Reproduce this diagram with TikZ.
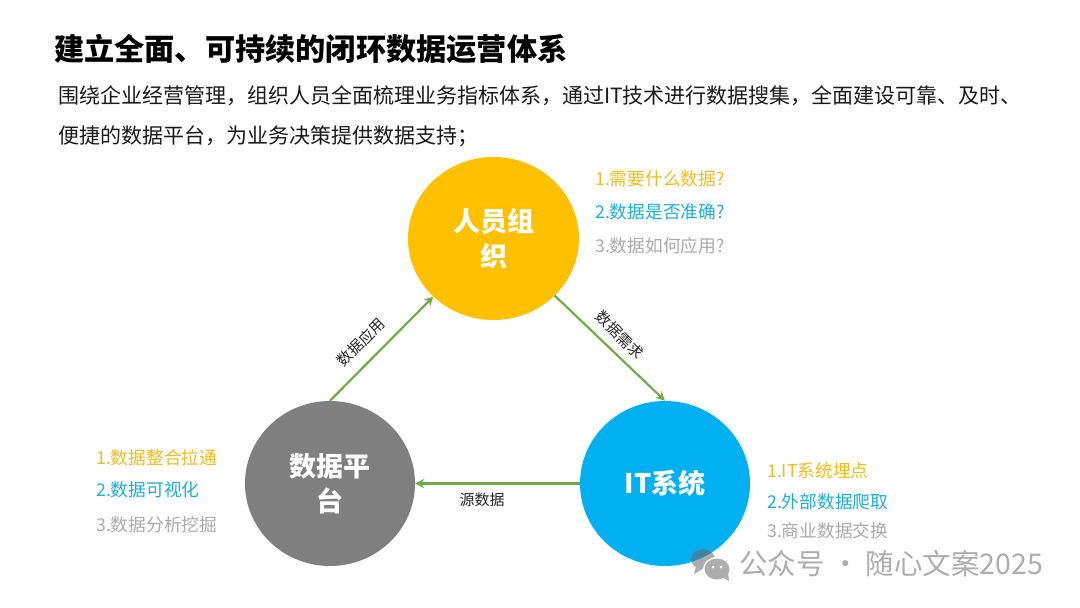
\documentclass[tikz,border=0pt]{standalone}
\usepackage{fontspec}
\setmainfont{Noto Sans CJK SC}
\usetikzlibrary{arrows.meta,shapes.geometric}
\definecolor{cyel}{HTML}{FFC000}
\definecolor{cblu}{HTML}{00B0F0}
\definecolor{cgry}{HTML}{7F7F7F}
\definecolor{cgrn}{HTML}{70AD47}
\definecolor{tyel}{HTML}{F2BC1A}
\definecolor{tblu}{HTML}{1BAFD8}
\definecolor{tgry}{HTML}{ABABAB}
\definecolor{wm}{HTML}{ADADAD}
\definecolor{wmb}{HTML}{3A86A8}
\newcommand{\fs}[1]{\fontsize{#1pt}{#1pt}\selectfont}
\tikzset{
 hub/.style={ellipse,inner sep=0pt,text=white,align=center,font=\fs{27}\bfseries},
 conn/.style={draw=cgrn,line width=2.2pt,-{Stealth[length=9pt,width=9pt]}},
 item/.style={anchor=west,inner sep=0pt,font=\fs{17.7}},
 clabel/.style={inner sep=0pt,font=\fs{15},text=black!85},
 bodyline/.style={anchor=west,inner sep=0pt,font=\fs{21},text=black!90},
}
\begin{document}
\begin{tikzpicture}[x=1pt,y=-1pt]
\useasboundingbox (0,0) rectangle (1080,608);
\fill[white] (0,0) rectangle (1080,608);
\node[anchor=west,inner sep=0pt,font=\fs{30.2}\bfseries,text=black] (title) at (54,49) {建立全面、可持续的闭环数据运营体系};
\node[bodyline] (l1) at (58,96) {围绕企业经营管理，组织人员全面梳理业务指标体系，通过IT技术进行数据搜集，全面建设可靠、及时、};
\node[bodyline] (l2) at (58,136) {便捷的数据平台，为业务决策提供数据支持；};

\node[hub,fill=cyel,minimum width=171pt,minimum height=163pt] (org) at (493.5,238.5) {人员组\\[8pt]织};
\node[hub,fill=cgry,minimum width=170pt,minimum height=165pt] (plat) at (330,483.5) {数据平\\[8pt]台};
\node[hub,fill=cblu,minimum width=170pt,minimum height=165pt] (it) at (665,483.5) {IT系统};

\draw[conn] (org.317) -- (it.90);
\draw[conn] (it.180) -- (plat.0);
\draw[conn] (plat.90) -- (org.224);

\node[clabel,rotate=-45] (n1) at (620,335) {数据需求};
\node[clabel,rotate=45] (n2) at (361,342) {数据应用};
\node[clabel] (n3) at (482,500) {源数据};

\node[item,text=tyel] (a1) at (595,179) {1.需要什么数据?};
\node[item,text=tblu] (a2) at (595,212) {2.数据是否准确?};
\node[item,text=tgry] (a3) at (595,246) {3.数据如何应用?};
\node[item,text=tyel] (b1) at (96,458) {1.数据整合拉通};
\node[item,text=tblu] (b2) at (96,490) {2.数据可视化};
\node[item,text=tgry] (b3) at (96,525) {3.数据分析挖掘};
\node[item,text=tyel] (c1) at (767,471) {1.IT系统埋点};
\node[item,text=tblu] (c2) at (767,502) {2.外部数据爬取};
\node[item,text=tgry] (c3) at (767,531) {3.商业数据交换};

% watermark
\fill[wm] (703,559) ellipse (12pt and 10pt);
\fill[wm] (696,566) -- (694,574) -- (704,568) -- cycle;
\begin{scope}
\clip (665,483.5) ellipse (85pt and 82.5pt);
\fill[wmb] (703,559) ellipse (12pt and 10pt);
\end{scope}
\fill[white] (717,569) ellipse (14pt and 12pt);
\fill[wm] (717,569) ellipse (12.5pt and 10.5pt);
\fill[wm] (722,577) -- (729,581) -- (728,572) -- cycle;
\fill[white] (713,567) circle (1.5pt) (721,567) circle (1.5pt);
\node[anchor=west,inner sep=0pt,font=\fs{28.5},text=wm] (wmark) at (739,564) {公众号 · 随心文案2025};
\end{tikzpicture}
\end{document}
